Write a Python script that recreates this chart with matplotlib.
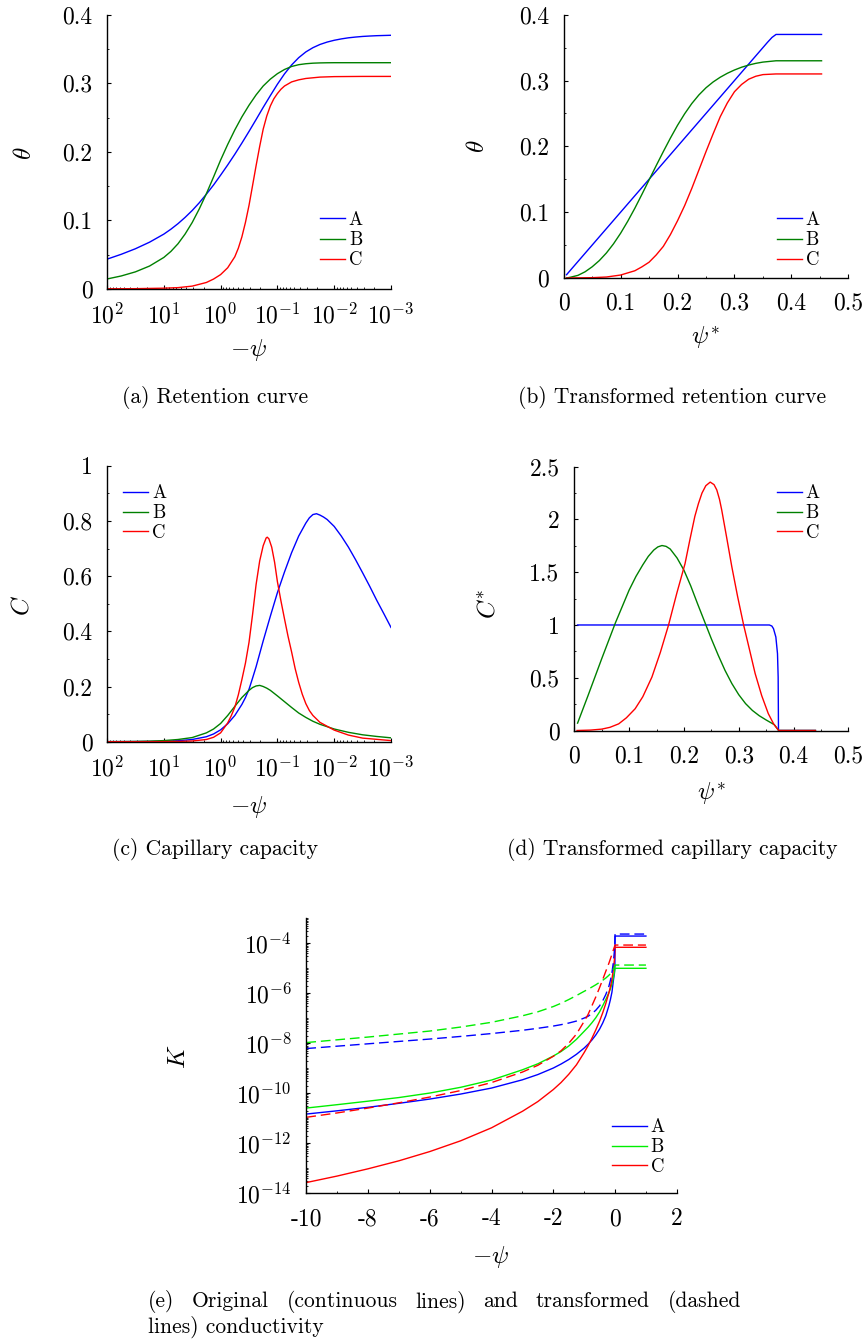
import numpy as np
import matplotlib
matplotlib.use('Agg')
import matplotlib.pyplot as plt
from matplotlib.ticker import FixedLocator, FuncFormatter, LogLocator, MultipleLocator, NullFormatter

plt.rcParams['font.family'] = 'cmr10'
plt.rcParams['mathtext.fontset'] = 'cm'
plt.rcParams['axes.unicode_minus'] = False
plt.rcParams['axes.formatter.use_mathtext'] = True

# ---------------- data ----------------
series_names = ['A', 'B', 'C']

# (a) retention curve, x = -psi
psi_a = [100, 56.2, 31.6, 17.8, 10, 7.5, 5.62, 4.22, 3.16, 2.37, 1.78, 1.33, 1, 0.75, 0.562,
         0.422, 0.316, 0.237, 0.178, 0.133, 0.1, 0.075, 0.0562, 0.0422, 0.0316, 0.0237, 0.0178,
         0.0133, 0.01, 0.0075, 0.00562, 0.00422, 0.00316, 0.00237, 0.00178, 0.00133, 0.001]
theta_a_A = [0.0435, 0.0506, 0.0587, 0.0683, 0.0800, 0.0872, 0.0953, 0.1044, 0.1145, 0.1258,
             0.1383, 0.1517, 0.1660, 0.1809, 0.1965, 0.2128, 0.2298, 0.2472, 0.2648, 0.2821,
             0.2986, 0.3137, 0.3267, 0.3373, 0.3457, 0.3519, 0.3566, 0.3601, 0.3627, 0.3647,
             0.3663, 0.3674, 0.3683, 0.3689, 0.3694, 0.3697, 0.3700]
theta_a_B = [0.0146, 0.019, 0.025, 0.0335, 0.046, 0.0548, 0.066, 0.0801, 0.097, 0.1169, 0.139,
             0.1634, 0.188, 0.2108, 0.232, 0.251, 0.268, 0.2831, 0.296, 0.3061, 0.314, 0.3201,
             0.3245, 0.3271, 0.3285, 0.3293, 0.3297, 0.3299, 0.33, 0.33, 0.33, 0.33, 0.33, 0.33,
             0.33, 0.33, 0.33]
psi_a_C = [100, 31.6, 10, 5.62, 3.16, 1.78, 1.33, 1, 0.75, 0.562, 0.487, 0.422, 0.365, 0.316,
           0.274, 0.237, 0.205, 0.178, 0.154, 0.133, 0.1155, 0.1, 0.0866, 0.075, 0.0562, 0.0422,
           0.0316, 0.0178, 0.01, 0.00316, 0.001]
theta_a_C = [0.0003, 0.0005, 0.0012, 0.002, 0.0042, 0.0095, 0.0145, 0.021, 0.031, 0.047, 0.0596,
             0.076, 0.0972, 0.122, 0.1506, 0.180, 0.208, 0.233, 0.2522, 0.267, 0.2774, 0.285,
             0.2913, 0.296, 0.302, 0.305, 0.307, 0.309, 0.3097, 0.31, 0.31]

# (b) transformed retention curve, x = psi*
psis_b_A = [0.005, 0.358, 0.366, 0.373, 0.453]
theta_b_A = [0.005, 0.358, 0.3655, 0.370, 0.370]
psis_b_B = [0.005, 0.0125, 0.025, 0.0375, 0.05, 0.0625, 0.075, 0.0875, 0.1, 0.1125, 0.125,
            0.1375, 0.15, 0.1625, 0.175, 0.1875, 0.2, 0.2125, 0.225, 0.2375, 0.25, 0.2625,
            0.275, 0.2875, 0.3, 0.3125, 0.325, 0.3375, 0.35, 0.373, 0.453]
theta_b_B = [0.0, 0.0013, 0.004, 0.0094, 0.017, 0.0264, 0.038, 0.0519, 0.068, 0.0862, 0.106,
             0.1272, 0.149, 0.1707, 0.192, 0.2126, 0.232, 0.2495, 0.265, 0.2781, 0.289, 0.2978,
             0.305, 0.311, 0.316, 0.3202, 0.3235, 0.3261, 0.328, 0.330, 0.330]
psis_b_C = [0.005, 0.05, 0.075, 0.1, 0.125, 0.1375, 0.15, 0.1625, 0.175, 0.1875, 0.2, 0.2125,
            0.225, 0.2375, 0.25, 0.2625, 0.275, 0.2875, 0.3, 0.3125, 0.325, 0.3375, 0.35,
            0.373, 0.453]
theta_b_C = [0.0, 0.0005, 0.0015, 0.0045, 0.011, 0.017, 0.024, 0.035, 0.048, 0.066, 0.087, 0.11,
             0.136, 0.164, 0.192, 0.219, 0.245, 0.266, 0.283, 0.294, 0.302, 0.3065, 0.309,
             0.310, 0.310]

# (c) capillary capacity, x = -psi
psi_c_A = [100, 56.2, 31.6, 17.8, 10, 5.62, 3.16, 1.78, 1.33, 1, 0.75, 0.562, 0.422, 0.365,
           0.316, 0.274, 0.237, 0.178, 0.133, 0.1, 0.075, 0.0562, 0.0422, 0.0316, 0.0274,
           0.0237, 0.0205, 0.0178, 0.0154, 0.0133, 0.01, 0.0075, 0.00562, 0.00422, 0.00316,
           0.00237, 0.00178, 0.00133, 0.001]
C_c_A = [0.0002, 0.0003, 0.0005, 0.0009, 0.0018, 0.0035, 0.008, 0.018, 0.028, 0.043, 0.065,
         0.095, 0.135, 0.16, 0.19, 0.23, 0.272, 0.365, 0.455, 0.54, 0.615, 0.685, 0.745, 0.792,
         0.811, 0.823, 0.826, 0.821, 0.814, 0.805, 0.78, 0.745, 0.705, 0.66, 0.612, 0.563,
         0.512, 0.463, 0.414]
psi_c_B = [100, 56.2, 31.6, 17.8, 10, 5.62, 3.16, 1.78, 1.33, 1, 0.75, 0.562, 0.422, 0.316,
           0.274, 0.237, 0.205, 0.178, 0.154, 0.133, 0.1, 0.075, 0.0562, 0.0422, 0.0316, 0.0237,
           0.0178, 0.01, 0.00562, 0.00316, 0.00178, 0.001]
C_c_B = [0.0003, 0.0005, 0.001, 0.002, 0.004, 0.008, 0.015, 0.032, 0.046, 0.066, 0.095, 0.128,
         0.16, 0.186, 0.196, 0.202, 0.204, 0.2, 0.194, 0.186, 0.166, 0.145, 0.124, 0.104, 0.088,
         0.074, 0.063, 0.046, 0.034, 0.025, 0.019, 0.014]
psi_c_C = [100, 31.6, 10, 5.62, 3.16, 1.78, 1.33, 1, 0.75, 0.649, 0.562, 0.487, 0.422, 0.365,
           0.316, 0.274, 0.237, 0.205, 0.178, 0.158, 0.151, 0.141, 0.126, 0.112, 0.1, 0.0866,
           0.075, 0.065, 0.0562, 0.0487, 0.0422, 0.0365, 0.0316, 0.0274, 0.0237, 0.0178, 0.01,
           0.00562, 0.00316, 0.001]
C_c_C = [0.0, 0.0001, 0.0004, 0.001, 0.0025, 0.008, 0.016, 0.032, 0.068, 0.094, 0.125, 0.17,
         0.225, 0.285, 0.36, 0.46, 0.57, 0.655, 0.71, 0.738, 0.741, 0.735, 0.705, 0.65, 0.58,
         0.51, 0.445, 0.382, 0.325, 0.265, 0.215, 0.172, 0.138, 0.113, 0.095, 0.07, 0.042,
         0.024, 0.013, 0.004]

# (d) transformed capillary capacity, x = psi*
psis_d_A = [0.006, 0.356, 0.3605, 0.3635, 0.3678, 0.3708, 0.372, 0.3726, 0.44]
Cs_d_A = [1.0, 1.0, 0.99, 0.965, 0.886, 0.728, 0.506, 0.0, 0.0]
psis_d_B = [0.006, 0.025, 0.05, 0.075, 0.1, 0.1125, 0.125, 0.135, 0.145, 0.1525, 0.16, 0.1675,
            0.175, 0.1875, 0.2, 0.2125, 0.225, 0.2375, 0.25, 0.2625, 0.275, 0.2875, 0.3,
            0.3125, 0.325, 0.3375, 0.35, 0.365, 0.373, 0.44]
Cs_d_B = [0.07, 0.33, 0.68, 1.02, 1.33, 1.46, 1.57, 1.65, 1.71, 1.74, 1.753, 1.745, 1.72, 1.635,
          1.52, 1.37, 1.2, 1.035, 0.87, 0.715, 0.57, 0.445, 0.34, 0.255, 0.19, 0.14, 0.10,
          0.055, 0.0, 0.0]
psis_d_C = [0.005, 0.03, 0.05, 0.065, 0.081, 0.095, 0.111, 0.125, 0.1416, 0.157, 0.172, 0.187,
            0.202, 0.211, 0.22, 0.2265, 0.233, 0.24, 0.248, 0.255, 0.26, 0.265, 0.269, 0.278,
            0.2875, 0.298, 0.309, 0.32, 0.33, 0.342, 0.354, 0.364, 0.373, 0.44]
Cs_d_C = [0.0, 0.004, 0.013, 0.03, 0.063, 0.12, 0.206, 0.32, 0.506, 0.74, 1.0, 1.3, 1.58, 1.81,
          2.03, 2.15, 2.25, 2.32, 2.354, 2.33, 2.28, 2.19, 2.09, 1.83, 1.55, 1.27, 1.0, 0.76,
          0.54, 0.33, 0.16, 0.06, 0.0, 0.0]

# (e) conductivity (log10 K), x = -psi
psi_e = [-10, -9, -8, -7, -6, -5, -4, -3, -2.5, -2, -1.75, -1.5, -1.25, -1, -0.875, -0.75,
         -0.625, -0.5, -0.4, -0.3, -0.2, -0.15, -0.1, -0.05, -0.02, -0.005, 0, 1]
logK_A = [-10.83, -10.70, -10.56, -10.40, -10.23, -10.03, -9.79, -9.46, -9.25, -8.99, -8.83,
          -8.65, -8.44, -8.19, -8.04, -7.87, -7.67, -7.43, -7.19, -6.9, -6.5, -6.25, -5.95,
          -5.45, -5.2, -4.95, -3.71, -3.71]
logK_B = [-10.59, -10.455, -10.315, -10.17, -9.99, -9.76, -9.47, -9.06, -8.82, -8.51, -8.33,
          -8.11, -7.84, -7.52, -7.36, -7.18, -6.98, -6.74, -6.5, -6.25, -5.98, -5.82, -5.62,
          -5.35, -5.15, -5.03, -5.0, -5.0]
logK_C = [-13.57, -13.31, -13.02, -12.70, -12.33, -11.90, -11.38, -10.72, -10.33, -9.85, -9.57,
          -9.24, -8.86, -8.37, -8.1, -7.8, -7.47, -7.11, -6.78, -6.41, -5.98, -5.74, -5.43,
          -5.0, -4.65, -4.35, -4.16, -4.16]
logKt_A = [-8.21, -8.115, -8.02, -7.925, -7.83, -7.725, -7.61, -7.48, -7.40, -7.31, -7.255,
           -7.19, -7.11, -6.99, -6.92, -6.81, -6.68, -6.5, -6.3, -6.05, -5.72, -5.48, -5.17,
           -4.72, -4.28, -3.92, -3.63, -3.63]
logKt_B = [-7.97, -7.86, -7.75, -7.63, -7.51, -7.35, -7.16, -6.9, -6.74, -6.53, -6.4, -6.25,
           -6.09, -5.92, -5.84, -5.75, -5.66, -5.56, -5.48, -5.39, -5.28, -5.21, -5.13, -5.02,
           -4.95, -4.9, -4.87, -4.87]
logKt_C = [-10.96, -10.785, -10.59, -10.38, -10.15, -9.89, -9.57, -9.15, -8.88, -8.52, -8.3,
           -8.0, -7.63, -7.12, -6.85, -6.5, -6.15, -5.77, -5.45, -5.12, -4.8, -4.62, -4.44,
           -4.25, -4.14, -4.09, -4.07, -4.07]

# ---------------- layout ----------------
W, H = 868, 1339
fig = plt.figure(figsize=(W / 100, H / 100), dpi=100)

BLUE, GREEN, RED, LIME = '#0000ff', '#008000', '#ff0000', '#00ee00'
LW = 1.0
TICK_FS = 17
LAB_FS = 18
LEG_FS = 13.5
CAP_FS = 15.5


def add_ax(l, t, r, b):
    return fig.add_axes([l / W, 1 - b / H, (r - l) / W, (b - t) / H])


def style(ax, xpad=10.5, ypad=10.5):
    for s in ['top', 'right']:
        ax.spines[s].set_visible(False)
    for s in ['left', 'bottom']:
        ax.spines[s].set_linewidth(1.0)
    ax.tick_params(which='major', direction='in', length=3, width=0.8, labelsize=TICK_FS)
    ax.tick_params(which='minor', direction='in', length=1.6, width=0.6)
    ax.tick_params(axis='x', which='major', pad=xpad)
    ax.tick_params(axis='y', which='major', pad=ypad)


lin_fmt = FuncFormatter(lambda v, p: '%g' % round(v, 6))
log_fmt = FuncFormatter(lambda v, p: r'$10^{%d}$' % int(round(np.log10(v))))


def log_psi_axis(ax):
    ax.set_xscale('log')
    ax.set_xlim(100, 1e-3)
    ax.xaxis.set_major_locator(FixedLocator([1e2, 1e1, 1e0, 1e-1, 1e-2, 1e-3]))
    ax.xaxis.set_major_formatter(log_fmt)
    ax.xaxis.set_minor_locator(LogLocator(base=10, subs=np.arange(2, 10), numticks=30))
    ax.xaxis.set_minor_formatter(NullFormatter())


def legend(ax, x, y, handlelength=1.33, spacing=0.12, handles=None, labels=None):
    kw = dict(loc='upper left', bbox_to_anchor=(x / W, 1 - y / H), bbox_transform=fig.transFigure,
              frameon=False, fontsize=LEG_FS, handlelength=handlelength, handletextpad=0.21,
              labelspacing=spacing, borderpad=0, borderaxespad=0)
    if handles is None:
        ax.legend(**kw)
    else:
        ax.legend(handles, labels, **kw)


def label(x, y, s, rot=0):
    fig.text(x / W, 1 - y / H, s, fontsize=LAB_FS, ha='center', va='center', rotation=rot)


def caption(x, y, s):
    fig.text(x / W, 1 - y / H, s, fontsize=CAP_FS, ha='center', va='center')


# (a)
ax = add_ax(107, 14.7, 391, 289)
style(ax)
ax.plot(psi_a, theta_a_A, color=BLUE, lw=LW, label=series_names[0])
ax.plot(psi_a, theta_a_B, color=GREEN, lw=LW, label=series_names[1])
ax.plot(psi_a_C, theta_a_C, color=RED, lw=LW, label=series_names[2])
log_psi_axis(ax)
ax.set_ylim(0, 0.4)
ax.yaxis.set_major_locator(MultipleLocator(0.1))
ax.yaxis.set_minor_locator(MultipleLocator(0.05))
ax.yaxis.set_major_formatter(lin_fmt)
legend(ax, 320, 211)
label(25, 153, r'$\theta$', 90)
label(249, 350, r'$-\psi$')
caption(215.5, 397.3, '(a) Retention curve')

# (b)
ax = add_ax(563.7, 14.7, 848.3, 278)
style(ax)
ax.plot(psis_b_A, theta_b_A, color=BLUE, lw=LW, label=series_names[0])
ax.plot(psis_b_B, theta_b_B, color=GREEN, lw=LW, label=series_names[1])
ax.plot(psis_b_C, theta_b_C, color=RED, lw=LW, label=series_names[2])
ax.set_xlim(0, 0.5)
ax.set_ylim(0, 0.4)
ax.xaxis.set_major_locator(MultipleLocator(0.1))
ax.xaxis.set_minor_locator(MultipleLocator(0.05))
ax.yaxis.set_major_locator(MultipleLocator(0.1))
ax.yaxis.set_minor_locator(MultipleLocator(0.05))
ax.xaxis.set_major_formatter(lin_fmt)
ax.yaxis.set_major_formatter(lin_fmt)
legend(ax, 776.7, 211)
label(478.3, 146.5, r'$\theta$', 90)
label(705, 338, r'$\psi^{*}$')
caption(672.5, 397.3, '(b) Transformed retention curve')

# (c)
ax = add_ax(107, 465.7, 391, 741.7)
style(ax)
ax.plot(psi_c_A, C_c_A, color=BLUE, lw=LW, label=series_names[0])
ax.plot(psi_c_B, C_c_B, color=GREEN, lw=LW, label=series_names[1])
ax.plot(psi_c_C, C_c_C, color=RED, lw=LW, label=series_names[2])
log_psi_axis(ax)
ax.set_ylim(0, 1)
ax.yaxis.set_major_locator(MultipleLocator(0.2))
ax.yaxis.set_minor_locator(MultipleLocator(0.1))
ax.yaxis.set_major_formatter(lin_fmt)
legend(ax, 123.3, 484.5, spacing=0.1)
label(22, 606, r'$C$', 90)
label(249, 806.7, r'$-\psi$')
caption(215, 849.3, '(c) Capillary capacity')

# (d)
ax = add_ax(574.3, 466.7, 848.3, 730.5)
style(ax)
ax.plot(psis_d_A, Cs_d_A, color=BLUE, lw=LW, label=series_names[0])
ax.plot(psis_d_B, Cs_d_B, color=GREEN, lw=LW, label=series_names[1])
ax.plot(psis_d_C, Cs_d_C, color=RED, lw=LW, label=series_names[2])
ax.set_xlim(0, 0.5)
ax.set_ylim(0, 2.5)
ax.xaxis.set_major_locator(MultipleLocator(0.1))
ax.xaxis.set_minor_locator(MultipleLocator(0.05))
ax.yaxis.set_major_locator(MultipleLocator(0.5))
ax.yaxis.set_minor_locator(MultipleLocator(0.25))
ax.xaxis.set_major_formatter(lin_fmt)
ax.yaxis.set_major_formatter(lin_fmt)
legend(ax, 776.7, 484.5, spacing=0.1)
label(488.3, 603.3, r'$C^{*}$', 90)
label(711, 793.3, r'$\psi^{*}$')
caption(672, 849.3, '(d) Transformed capillary capacity')

# (e)
ax = add_ax(306.3, 918.3, 676.8, 1193.3)
style(ax)
Kcol = [BLUE, LIME, RED]
for lk, c, n in zip([logK_A, logK_B, logK_C], Kcol, series_names):
    ax.plot(psi_e, 10.0 ** np.array(lk), color=c, lw=LW, label=n)
for lk, c in zip([logKt_A, logKt_B, logKt_C], Kcol):
    ax.plot(psi_e, 10.0 ** np.array(lk), color=c, lw=LW, ls=(0, (7, 3.5)))
ax.set_yscale('log')
ax.set_xlim(-10, 2)
ax.set_ylim(1e-14, 1e-3)
ax.yaxis.set_major_locator(FixedLocator([1e-14, 1e-12, 1e-10, 1e-8, 1e-6, 1e-4]))
ax.yaxis.set_major_formatter(log_fmt)
ax.yaxis.set_minor_locator(LogLocator(base=10, subs=np.arange(1, 10), numticks=40))
ax.yaxis.set_minor_formatter(NullFormatter())
ax.xaxis.set_major_locator(MultipleLocator(2))
ax.xaxis.set_minor_locator(MultipleLocator(1))
ax.xaxis.set_major_formatter(FuncFormatter(lambda v, p: '%d' % int(round(v))))
h, l = ax.get_legend_handles_labels()
legend(ax, 611.5, 1118.5, handlelength=1.87, spacing=0.1, handles=h[:3], labels=l[:3])
label(178.6, 1056.7, r'$K$', 90)
label(491, 1256.7, r'$-\psi$')

# justified caption (e)
renderer = fig.canvas.get_renderer()
words = '(e) Original (continuous lines) and transformed (dashed'.split()
texts = [fig.text(0, 1 - 1301.7 / H, w, fontsize=CAP_FS, ha='left', va='center') for w in words]
widths = [t.get_window_extent(renderer).width for t in texts]
x0, x1 = 148, 741
gap = (x1 - x0 - sum(widths)) / (len(words) - 1)
xx = x0
for t, wd in zip(texts, widths):
    t.set_x(xx / W)
    xx += wd + gap
fig.text(148 / W, 1 - 1326.7 / H, 'lines) conductivity', fontsize=CAP_FS, ha='left', va='center')

fig.savefig('out.png', dpi=100)
